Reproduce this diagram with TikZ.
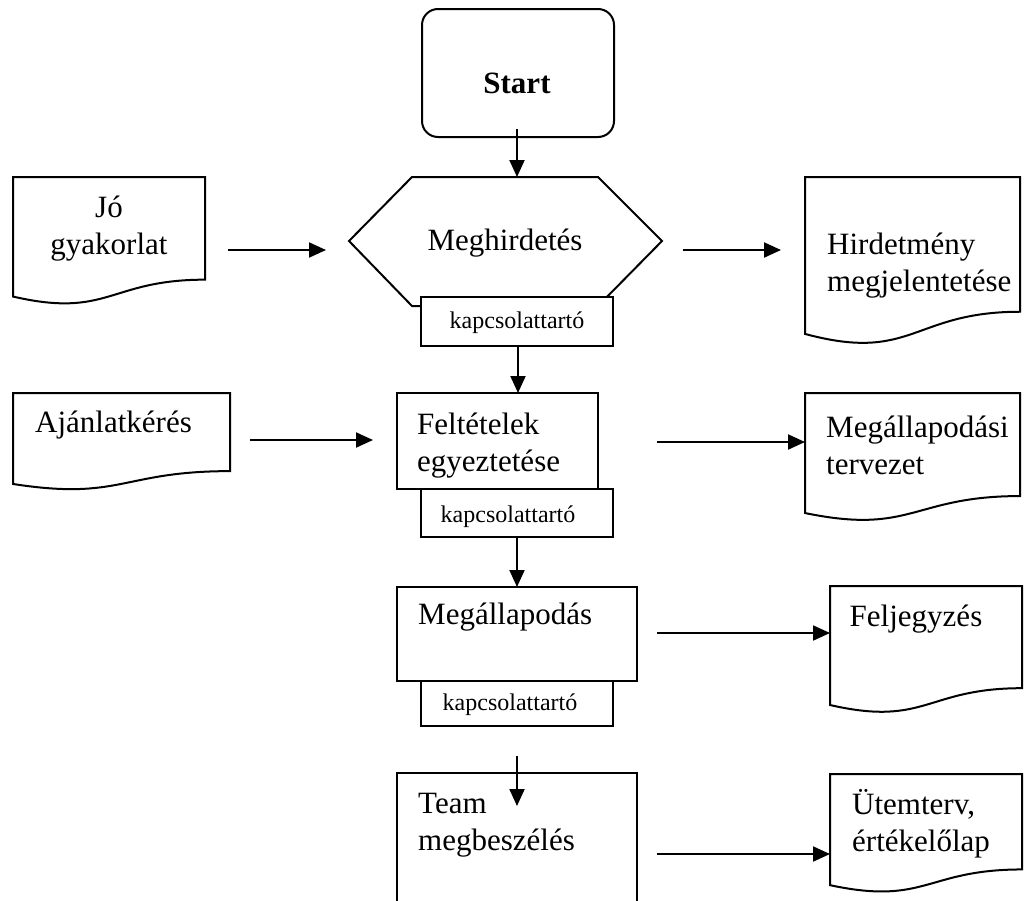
\documentclass[tikz,border=0pt]{standalone}
\usepackage{fontspec}
\setmainfont{Liberation Serif}
\usetikzlibrary{arrows.meta}
\tikzset{
  shp/.style={draw=black, line width=2pt, fill=white, line join=miter},
  arr/.style={line width=2pt, -{Triangle[length=17pt,width=15pt]}},
  big/.style={font=\fontsize{31}{37}\selectfont, inner sep=0pt},
  small/.style={font=\fontsize{24}{28}\selectfont, inner sep=0pt},
}
% document shape: left, top, right, height
\newcommand\docpath[4]{%
  \draw[shp] (#1,#2) -- (#3,#2) -- (#3,{#2+0.802*#4})
    .. controls ({(#1+#3)/2},{#2+0.802*#4}) and ({(#1+#3)/2},{#2+1.107*#4}) .. (#1,{#2+0.934*#4}) -- cycle;}
\begin{document}
\begin{tikzpicture}[x=1pt,y=-1pt]
\useasboundingbox (0,0) rectangle (1032,900);
% ---- shapes ----
\draw[shp, rounded corners=16pt] (422,9) rectangle (614,137);
\draw[shp] (412,177) -- (598,177) -- (662,241) -- (598,306) -- (412,306) -- (349,241) -- cycle;
\draw[shp] (421,297) rectangle (613,346);
\draw[shp] (397,393) rectangle (598,489);
\draw[shp] (421,489) rectangle (613,537);
\draw[shp] (397,587) rectangle (637,681);
\draw[shp] (421,681) rectangle (613,726);
\draw[shp, fill=none] (397,901) -- (397,773) -- (637,773) -- (637,901);
\docpath{13}{177}{205}{128}
\docpath{805}{177}{1020}{168}
\docpath{13}{393}{230}{97.4}
\docpath{805}{393}{1020}{128.5}
\docpath{830}{586}{1022}{127.4}
\docpath{830}{774}{1022}{119}
% ---- texts ----
\node[big, font=\fontsize{31}{37}\selectfont\bfseries] (start) at (517,83) {Start};
\node[big, align=center] (jo) at (109,229) {Jó\\gyakorlat};
\node[big] (meg) at (505,243) {Meghirdetés};
\node[big, align=left, anchor=west] (hird) at (827,266) {Hirdetmény\\megjelentetése};
\node[small] (kap1) at (517,323) {kapcsolattartó};
\node[big, anchor=west] (ajan) at (35,425) {Ajánlatkérés};
\node[big, align=left, anchor=west] (felt) at (417,446) {Feltételek\\egyeztetése};
\node[big, align=left, anchor=west] (mterv) at (826,445) {Megállapodási\\tervezet};
\node[small] (kap2) at (508,517) {kapcsolattartó};
\node[big, anchor=west] (megall) at (418,617) {Megállapodás};
\node[big] (felj) at (916,619) {Feljegyzés};
\node[small] (kap3) at (510,705) {kapcsolattartó};
\node[big, align=left, anchor=west] (team) at (418,825) {Team\\megbeszélés};
\node[big, align=left, anchor=west] (utem) at (852,824) {Ütemterv,\\értékelőlap};
% ---- connector ends ----
\coordinate (s1) at (517,129);  \coordinate (e1) at (517,177);
\coordinate (s2) at (518,346);  \coordinate (e2) at (518,393);
\coordinate (s3) at (517,537);  \coordinate (e3) at (517,587);
\coordinate (s4) at (517,756);  \coordinate (e4) at (517,806);
\coordinate (s5) at (228,250);  \coordinate (e5) at (326,250);
\coordinate (s6) at (683,250);  \coordinate (e6) at (781,250);
\coordinate (s7) at (250,440);  \coordinate (e7) at (373,440);
\coordinate (s8) at (657,442);  \coordinate (e8) at (805,442);
\coordinate (s9) at (657,633);  \coordinate (e9) at (830,633);
\coordinate (s10) at (657,854); \coordinate (e10) at (830,854);
% ---- connectors ----
\draw[arr] (s1) -- (e1);
\draw[arr] (s2) -- (e2);
\draw[arr] (s3) -- (e3);
\draw[arr] (s4) -- (e4);
\draw[arr] (s5) -- (e5);
\draw[arr] (s6) -- (e6);
\draw[arr] (s7) -- (e7);
\draw[arr] (s8) -- (e8);
\draw[arr] (s9) -- (e9);
\draw[arr] (s10) -- (e10);
\end{tikzpicture}
\end{document}
